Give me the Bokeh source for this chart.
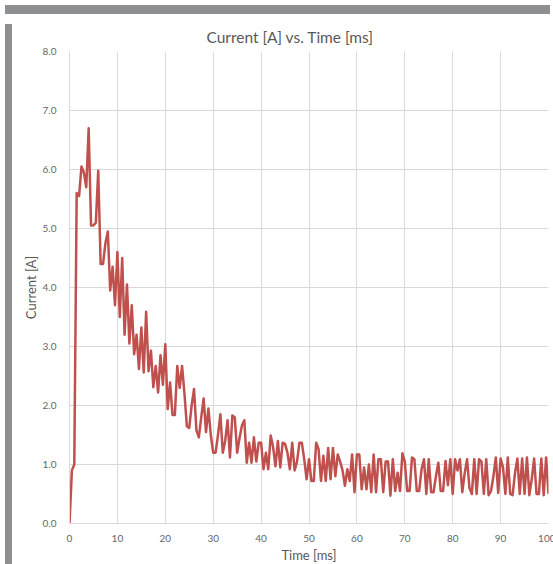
from bokeh.plotting import figure
from bokeh.models import Range1d, FixedTicker, NumeralTickFormatter, Div, Title
from bokeh.layouts import column, row
from bokeh.embed import file_html
from bokeh.resources import INLINE

current_a = [
    0.0, 0.9, 1.0, 5.6, 5.55, 6.05, 5.95, 5.7, 6.7, 5.05,
    5.05, 5.1, 5.98, 4.4, 4.4, 4.75, 4.95, 3.95, 4.35, 3.7,
    4.6, 3.5, 4.5, 3.2, 4.05, 3.05, 3.7, 2.87, 3.2, 2.62,
    3.32, 2.56, 3.59, 2.58, 2.93, 2.31, 2.67, 2.22, 2.85, 2.35,
    3.04, 1.94, 2.39, 1.84, 1.84, 2.67, 2.3, 2.67, 2.2, 1.65,
    1.62, 2.0, 2.28, 1.58, 1.46, 1.8, 2.12, 1.55, 1.95, 1.5,
    1.2, 1.2, 1.5, 1.85, 1.2, 1.4, 1.75, 1.12, 1.83, 1.8,
    1.2, 1.45, 1.66, 1.75, 1.03, 1.37, 1.03, 1.46, 1.05, 1.37,
    1.37, 0.92, 1.2, 0.92, 1.49, 1.3, 0.97, 1.4, 0.95, 1.37,
    1.35, 1.2, 0.92, 1.37, 0.9, 1.05, 1.37, 1.37, 1.09, 0.75,
    1.09, 0.72, 0.72, 1.37, 1.26, 0.72, 1.15, 0.72, 1.28, 0.75,
    1.28, 0.8, 1.17, 1.05, 0.9, 0.64, 0.92, 0.72, 1.17, 0.53,
    1.17, 1.17, 0.58, 0.95, 0.58, 1.0, 0.53, 1.17, 0.53, 1.09,
    1.09, 0.53, 1.05, 1.05, 0.47, 1.09, 0.55, 0.86, 0.55, 1.19,
    1.05, 0.55, 0.55, 1.12, 1.09, 0.55, 0.55, 0.92, 1.09, 0.5,
    1.09, 0.53, 0.53, 0.8, 1.03, 0.55, 0.55, 1.06, 0.65, 1.09,
    0.5, 1.09, 0.9, 1.09, 0.53, 0.85, 1.09, 0.6, 0.5, 1.09,
    0.5, 1.09, 1.05, 0.5, 1.09, 0.48, 0.55, 0.8, 1.12, 0.52,
    1.1, 0.95, 0.5, 1.12, 0.5, 0.48, 0.85, 1.1, 0.5, 1.1,
    0.5, 1.12, 0.48, 0.75, 1.1, 0.5, 0.5, 1.1, 0.48, 1.12,
    0.5,
]
sample_step_ms = 0.5
time_ms = [i * sample_step_ms for i in range(len(current_a))]

x_ticks = [0, 10, 20, 30, 40, 50, 60, 70, 80, 90, 100]
y_ticks = [0, 1, 2, 3, 4, 5, 6, 7, 8]
title_text = "Current [A] vs. Time [ms]"

TEXT = "#595959"
GRID = "#D9D9D9"
LINE = "#C0504D"
FONT = "Lato"
GRAY = "#8E8F91"

p = figure(width=538, height=547, output_backend="svg", toolbar_location=None,
           x_range=Range1d(0, 100), y_range=Range1d(0, 8),
           min_border_left=52, min_border_right=7, min_border_top=32, min_border_bottom=43)
p.title = Title(text=title_text, align="left", offset=137, standoff=11,
                text_font=FONT, text_font_size="15.5px", text_font_style="normal",
                text_color=TEXT)

p.line(time_ms, current_a, line_color=LINE, line_width=2.5, line_join="round")

p.outline_line_color = None
p.background_fill_color = "white"
p.border_fill_color = "white"

for ax in (p.xaxis[0], p.yaxis[0]):
    ax.axis_line_color = GRID
    ax.major_tick_line_color = None
    ax.minor_tick_line_color = None
    ax.major_label_text_font = FONT
    ax.major_label_text_font_size = "10px"
    ax.major_label_text_color = "#666666"
    ax.axis_label_text_font = FONT
    ax.axis_label_text_font_size = "13px"
    ax.axis_label_text_font_style = "normal"
    ax.axis_label_text_color = TEXT

p.xaxis.ticker = FixedTicker(ticks=x_ticks)
p.yaxis.ticker = FixedTicker(ticks=y_ticks)
p.yaxis.formatter = NumeralTickFormatter(format="0.0")
p.xaxis.axis_label = "Time [ms]"
p.yaxis.axis_label = "Current [A]"
p.xaxis.major_label_standoff = 5
p.yaxis.major_label_standoff = 7
p.xaxis.axis_label_standoff = 2
p.yaxis.axis_label_standoff = 1

p.xgrid.grid_line_color = GRID
p.ygrid.grid_line_color = GRID
p.xgrid.grid_line_width = 1
p.ygrid.grid_line_width = 1

top_strip = Div(width=545, height=9, styles={"background-color": GRAY})
left_strip = Div(width=7, height=547, styles={"background-color": GRAY})
layout = column(top_strip, row(left_strip, p, spacing=0), spacing=0,
                styles={"outline": f"8px solid {GRAY}"})

open("out.html", "w").write(file_html(layout, INLINE))
